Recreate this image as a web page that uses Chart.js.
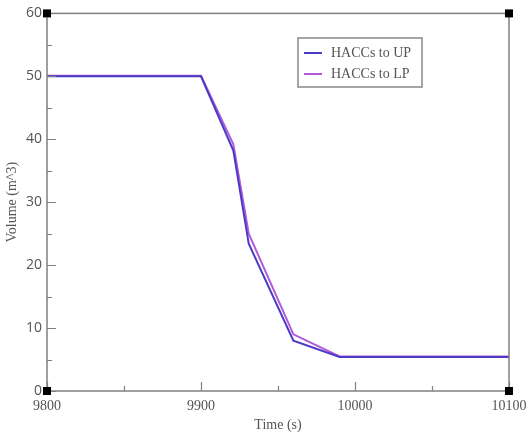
<!DOCTYPE html>
<html>
<head>
<meta charset="utf-8">
<script src="https://cdn.jsdelivr.net/npm/chart.js@4/dist/chart.umd.min.js"></script>
<style>
  html, body { margin: 0; padding: 0; background: #fff; }
  #wrap { width: 527px; height: 438px; }
</style>
</head>
<body>
<div id="wrap"><canvas id="chart"></canvas></div>
<script>
// values
const times = [9800, 9900, 9921, 9931, 9960, 9990, 10100];
const upVolume = [50, 50, 38.2, 23.4, 8.0, 5.4, 5.4];
const lpVolume = [50.1, 50.1, 39.2, 25.0, 9.0, 5.5, 5.5];
const seriesLabels = ["HACCs to UP", "HACCs to LP"];
const xMinorTicks = [9850, 9950, 10050];
const xMajorTicks = [9800, 9900, 10000, 10100];
const yMajorTicks = [0, 10, 20, 30, 40, 50, 60];
const yMinorTicks = [5, 15, 25, 35, 45, 55];

const serif = "'Liberation Serif', serif";
const textGrey = "#555";
const axisGrey = "#808080";

function toPoints(xs, ys) {
  return xs.map(function(x, i) { return { x: x, y: ys[i] }; });
}

// frame, inward ticks and black corner squares
const framePlugin = {
  id: "frame",
  afterDatasetsDraw: function(chart) {
    let ctx = chart.ctx;
    let a = chart.chartArea;
    let xs = chart.scales.x;
    let ys = chart.scales.y;
    ctx.save();
    ctx.strokeStyle = axisGrey;
    ctx.lineWidth = 1.5;
    ctx.strokeRect(a.left, a.top, a.right - a.left, a.bottom - a.top);

    ctx.lineWidth = 1.2;
    ctx.beginPath();
    xMajorTicks.forEach(function(v) {
      let px = Math.round(xs.getPixelForValue(v)) + 0.5;
      ctx.moveTo(px, a.bottom); ctx.lineTo(px, a.bottom - 9);
    });
    xMinorTicks.forEach(function(v) {
      let px = Math.round(xs.getPixelForValue(v)) + 0.5;
      ctx.moveTo(px, a.bottom); ctx.lineTo(px, a.bottom - 5);
    });
    yMajorTicks.forEach(function(v) {
      let py = Math.round(ys.getPixelForValue(v)) + 0.5;
      ctx.moveTo(a.left, py); ctx.lineTo(a.left + 9, py);
    });
    yMinorTicks.forEach(function(v) {
      let py = Math.round(ys.getPixelForValue(v)) + 0.5;
      ctx.moveTo(a.left, py); ctx.lineTo(a.left + 5, py);
    });
    ctx.stroke();

    ctx.fillStyle = "#000";
    [[a.left, a.top], [a.right, a.top], [a.left, a.bottom], [a.right, a.bottom]].forEach(function(c) {
      ctx.fillRect(c[0] - 4, c[1] - 4, 8, 8);
    });
    ctx.restore();
  }
};

// boxed legend inside the plot, upper right
const boxLegendPlugin = {
  id: "boxLegend",
  afterDraw: function(chart) {
    let ctx = chart.ctx;
    let left = 298, top = 38, w = 124, h = 49;
    ctx.save();
    ctx.fillStyle = "#fff";
    ctx.fillRect(left, top, w, h);
    ctx.strokeStyle = "#888";
    ctx.lineWidth = 1.5;
    ctx.strokeRect(left, top, w, h);
    ctx.font = "14px " + serif;
    ctx.textBaseline = "middle";
    chart.data.datasets.forEach(function(ds, i) {
      let y = top + 15 + i * 21;
      ctx.strokeStyle = ds.borderColor;
      ctx.lineWidth = 2;
      ctx.beginPath();
      ctx.moveTo(left + 6, y); ctx.lineTo(left + 24, y);
      ctx.stroke();
      ctx.fillStyle = textGrey;
      ctx.fillText(ds.label, left + 33, y);
    });
    ctx.restore();
  }
};

new Chart(document.getElementById("chart"), {
  type: "line",
  data: {
    datasets: [{
      label: seriesLabels[0],
      data: toPoints(times, upVolume),
      borderColor: "#4a3cc6",
      borderWidth: 2,
      pointRadius: 0,
      tension: 0
    }, {
      label: seriesLabels[1],
      data: toPoints(times, lpVolume),
      borderColor: "#b25ad8",
      borderWidth: 2,
      pointRadius: 0,
      tension: 0
    }]
  },
  options: {
    responsive: true,
    maintainAspectRatio: false,
    animation: false,
    layout: { padding: { top: 12, right: 18, left: 0, bottom: 0 } },
    plugins: {
      legend: { display: false },
      tooltip: { enabled: false }
    },
    scales: {
      x: {
        type: "linear",
        min: 9800,
        max: 10100,
        grid: { display: false, drawTicks: false },
        border: { display: false },
        ticks: {
          stepSize: 100,
          padding: 7,
          color: textGrey,
          font: { family: serif, size: 14 },
          maxRotation: 0,
          callback: function(v) { return String(v); }
        },
        title: {
          display: true,
          text: "Time (s)",
          color: textGrey,
          font: { family: serif, size: 14 },
          padding: { top: 2, bottom: 4 }
        },
        afterFit: function(scale) {
          scale.height = 47;
          scale.paddingLeft = 0;
          scale.paddingRight = 0;
        }
      },
      y: {
        min: 0,
        max: 60,
        grid: { display: false, drawTicks: false },
        border: { display: false },
        ticks: {
          stepSize: 10,
          padding: 5,
          color: textGrey,
          font: { family: "'Open Sans', sans-serif", size: 14 }
        },
        title: {
          display: true,
          text: "Volume (m^3)",
          color: textGrey,
          font: { family: serif, size: 14 },
          padding: { top: 4, bottom: 0 }
        },
        afterFit: function(scale) { scale.width = 47; }
      }
    }
  },
  plugins: [framePlugin, boxLegendPlugin]
});
</script>
</body>
</html>
